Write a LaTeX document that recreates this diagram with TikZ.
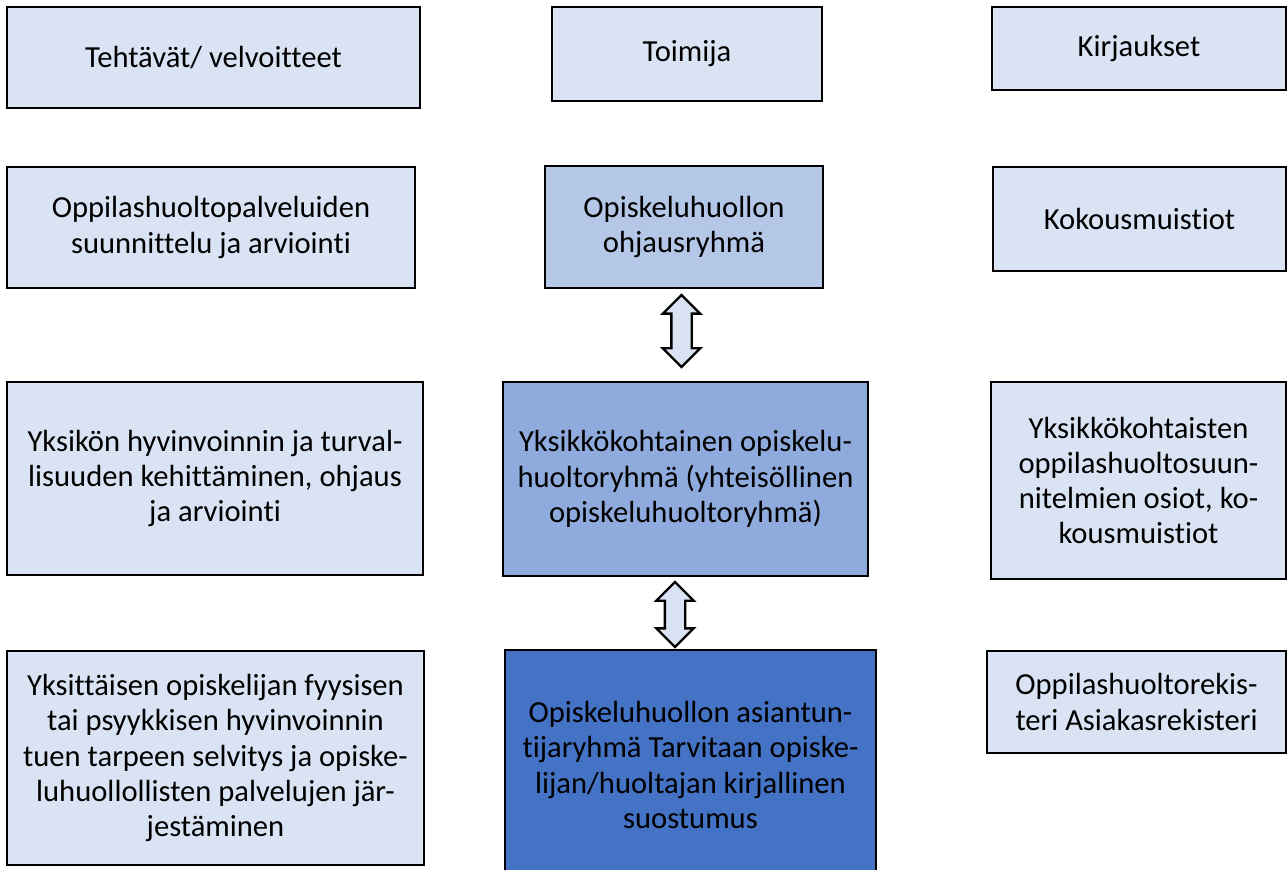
\documentclass[tikz,border=0pt]{standalone}
\usepackage{fontspec}
\setmainfont{Carlito}[Ligatures=CommonOff]
\usepackage{xcolor}
\usetikzlibrary{shapes.arrows}
\definecolor{vaalea}{HTML}{DAE3F3}
\definecolor{keski}{HTML}{B4C7E7}
\definecolor{tumma}{HTML}{8FAADC}
\definecolor{syva}{HTML}{4472C4}
\tikzset{
	laatikko/.style={draw=black, line width=1.2pt, fill=vaalea, inner sep=0pt, align=center, font=\fontsize{15.3}{17.6}\selectfont},
	nuoli/.style={double arrow, draw=black, line width=1.2pt, fill=vaalea, rotate=90, inner xsep=0pt, inner ysep=4.5pt, double arrow head extend=4.25pt, double arrow tip angle=90, minimum width=17.5pt}
}

\begin{document}
\begin{tikzpicture}[x=0.5pt, y=-0.5pt]
	\useasboundingbox (0,0) rectangle (1288,870);

	%% Otsikot
	\node[laatikko, minimum width=206.5pt, minimum height=50.5pt] (teht) at (213.5,57.5) {Tehtävät/ velvoitteet};
	\node[laatikko, minimum width=135pt, minimum height=47pt] (toim) at (687,54) {Toimija};
	\node[laatikko, minimum width=147pt, minimum height=41.5pt] (kirj) at (1139,48.5) {Kirjaukset};

	%% Ohjausryhma
	\node[laatikko, minimum width=204pt, minimum height=60.5pt] (teht1) at (211,227.5) {Oppilashuoltopalveluiden\\ suunnittelu ja arviointi};
	\node[laatikko, fill=keski, minimum width=139pt, minimum height=61pt] (toim1) at (684,227) {Opiskeluhuollon\\ ohjausryhmä};
	\node[laatikko, minimum width=146.5pt, minimum height=52pt] (kirj1) at (1139.5,219) {Kokousmuistiot};

	%% Yksikkokohtainen
	\node[laatikko, minimum width=208pt, minimum height=96.5pt] (teht2) at (215,478.5) {Yksikön hyvinvoinnin ja turval-\\ lisuuden kehittäminen, ohjaus\\ ja arviointi};
	\node[laatikko, fill=tumma, minimum width=182.5pt, minimum height=97pt] (toim2) at (685.5,479) {Yksikkökohtainen opiskelu-\\ huoltoryhmä (yhteisöllinen\\ opiskeluhuoltoryhmä)};
	\node[laatikko, minimum width=147.5pt, minimum height=98.5pt] (kirj2) at (1138.5,480.5) {Yksikkökohtaisten\\ oppilashuoltosuun-\\ nitelmien osiot, ko-\\ kousmuistiot};

	%% Asiantuntijaryhma
	\node[laatikko, minimum width=208.5pt, minimum height=107pt] (teht3) at (215.5,758) {Yksittäisen opiskelijan fyysisen\\ tai psyykkisen hyvinvoinnin\\ tuen tarpeen selvitys ja opiske-\\ luhuollollisten palvelujen jär-\\ jestäminen};
	\node[laatikko, fill=syva, minimum width=185.5pt, minimum height=115pt] (toim3) at (690.5,765) {Opiskeluhuollon asiantun-\\ tijaryhmä Tarvitaan opiske-\\ lijan/huoltajan kirjallinen\\ suostumus};
	\node[laatikko, minimum width=149.5pt, minimum height=51pt] (kirj3) at (1136.5,702) {Oppilashuoltorekis-\\ teri Asiakasrekisteri};

	%% Nuolet
	\node[nuoli, minimum height=36pt] (n1) at (681.5,331) {};
	\node[nuoli, minimum height=32.5pt] (n2) at (675,614.5) {};

\end{tikzpicture}
\end{document}
